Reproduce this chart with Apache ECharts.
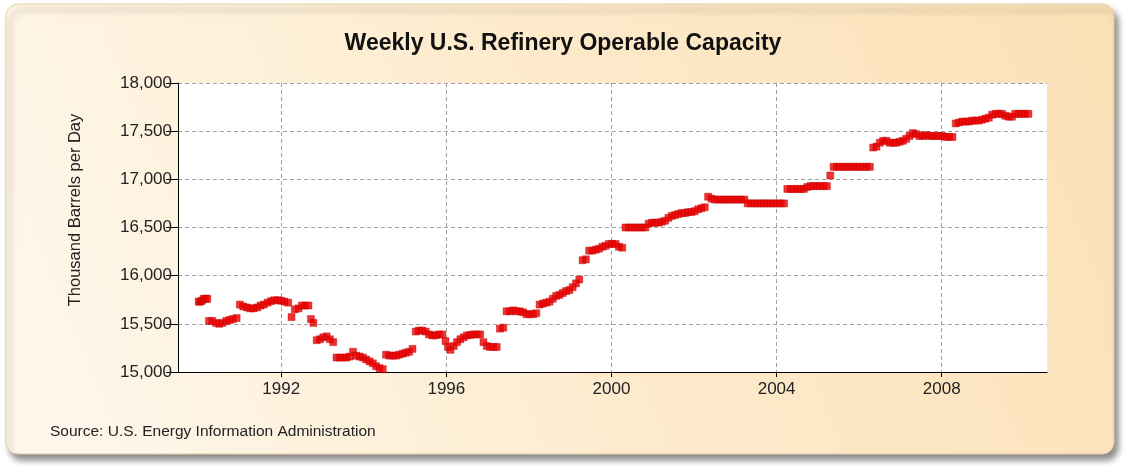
<!DOCTYPE html>
<html>
<head>
<meta charset="utf-8">
<title>Weekly U.S. Refinery Operable Capacity</title>
<script src="https://cdn.jsdelivr.net/npm/echarts@6/dist/echarts.min.js"></script>
<style>
  html, body { margin: 0; padding: 0; background: #fff; }
  #chart { width: 1126px; height: 470px; }
</style>
</head>
<body>
<div id="chart"></div>
<script>
// weekly readings, date as decimal year
const years = [
  1990.00, 1990.04, 1990.08, 1990.12, 1990.17, 1990.21, 1990.25, 1990.33, 1990.42, 1990.50,
  1990.58, 1990.67, 1990.75, 1990.83, 1990.92, 1991.00, 1991.08, 1991.17, 1991.25, 1991.33,
  1991.42, 1991.50, 1991.58, 1991.67, 1991.75, 1991.83, 1991.92, 1992.00, 1992.08, 1992.17,
  1992.25, 1992.33, 1992.42, 1992.50, 1992.58, 1992.66, 1992.72, 1992.78, 1992.86, 1992.94,
  1993.02, 1993.10, 1993.18, 1993.26, 1993.34, 1993.42, 1993.50, 1993.58, 1993.66, 1993.74,
  1993.82, 1993.90, 1993.98, 1994.06, 1994.14, 1994.22, 1994.30, 1994.38, 1994.46, 1994.54,
  1994.62, 1994.70, 1994.78, 1994.86, 1994.94, 1995.02, 1995.10, 1995.18, 1995.26, 1995.34,
  1995.42, 1995.50, 1995.58, 1995.66, 1995.74, 1995.82, 1995.90, 1995.98, 1996.04, 1996.10,
  1996.18, 1996.26, 1996.34, 1996.42, 1996.50, 1996.58, 1996.66, 1996.74, 1996.82, 1996.90,
  1996.98, 1997.06, 1997.14, 1997.22, 1997.30, 1997.38, 1997.46, 1997.54, 1997.62, 1997.70,
  1997.78, 1997.86, 1997.94, 1998.02, 1998.10, 1998.18, 1998.26, 1998.34, 1998.42, 1998.50,
  1998.58, 1998.66, 1998.74, 1998.82, 1998.90, 1998.98, 1999.06, 1999.14, 1999.22, 1999.30,
  1999.38, 1999.46, 1999.54, 1999.62, 1999.70, 1999.78, 1999.86, 1999.94, 2000.02, 2000.10,
  2000.18, 2000.26, 2000.34, 2000.42, 2000.50, 2000.58, 2000.66, 2000.74, 2000.82, 2000.90,
  2000.98, 2001.06, 2001.14, 2001.22, 2001.30, 2001.38, 2001.46, 2001.54, 2001.62, 2001.70,
  2001.78, 2001.86, 2001.94, 2002.02, 2002.10, 2002.18, 2002.26, 2002.34, 2002.42, 2002.50,
  2002.58, 2002.66, 2002.74, 2002.82, 2002.90, 2002.98, 2003.06, 2003.14, 2003.22, 2003.30,
  2003.38, 2003.46, 2003.54, 2003.62, 2003.70, 2003.78, 2003.86, 2003.94, 2004.02, 2004.10,
  2004.18, 2004.26, 2004.34, 2004.42, 2004.50, 2004.58, 2004.66, 2004.74, 2004.82, 2004.90,
  2004.98, 2005.06, 2005.14, 2005.22, 2005.30, 2005.38, 2005.46, 2005.54, 2005.62, 2005.70,
  2005.78, 2005.86, 2005.94, 2006.02, 2006.10, 2006.18, 2006.26, 2006.34, 2006.42, 2006.50,
  2006.58, 2006.66, 2006.74, 2006.82, 2006.90, 2006.98, 2007.06, 2007.14, 2007.22, 2007.30,
  2007.38, 2007.46, 2007.54, 2007.62, 2007.70, 2007.78, 2007.86, 2007.94, 2008.02, 2008.10,
  2008.18, 2008.26, 2008.34, 2008.42, 2008.50, 2008.58, 2008.66, 2008.74, 2008.82, 2008.90,
  2008.98, 2009.06, 2009.14, 2009.22, 2009.30, 2009.38, 2009.46, 2009.54, 2009.62, 2009.70,
  2009.78, 2009.86, 2009.94, 2010.02, 2010.10
];

// thousand barrels per day
const capacity = [
  15730, 15730, 15740, 15760, 15760, 15760, 15530, 15530, 15510, 15500,
  15510, 15530, 15540, 15550, 15560, 15700, 15680, 15670, 15660, 15660,
  15670, 15690, 15700, 15720, 15735, 15745, 15745, 15740, 15730, 15720,
  15570, 15650, 15660, 15690, 15690, 15690, 15550, 15510, 15330, 15340,
  15360, 15370, 15340, 15310, 15150, 15150, 15150, 15150, 15160, 15210,
  15170, 15160, 15150, 15130, 15110, 15090, 15060, 15040, 15030, 15180,
  15170, 15170, 15170, 15180, 15190, 15200, 15210, 15240, 15420, 15430,
  15430, 15420, 15390, 15380, 15380, 15390, 15390, 15320, 15260, 15230,
  15270, 15310, 15340, 15360, 15380, 15385, 15390, 15390, 15390, 15310,
  15270, 15260, 15260, 15260, 15450, 15460, 15630, 15630, 15640, 15630,
  15630, 15620, 15600, 15600, 15600, 15610, 15700, 15710, 15720, 15730,
  15760, 15790, 15800, 15820, 15840, 15850, 15880, 15920, 15960, 16160,
  16170, 16260, 16260, 16270, 16280, 16300, 16310, 16330, 16330, 16330,
  16300, 16290, 16500, 16500, 16500, 16500, 16500, 16500, 16500, 16540,
  16550, 16550, 16550, 16560, 16570, 16600, 16620, 16630, 16640, 16650,
  16650, 16660, 16660, 16670, 16690, 16700, 16710, 16820, 16800, 16790,
  16790, 16790, 16790, 16790, 16790, 16790, 16790, 16790, 16790, 16750,
  16750, 16750, 16750, 16750, 16750, 16750, 16750, 16750, 16750, 16750,
  16750, 16900, 16900, 16900, 16900, 16900, 16900, 16920, 16930, 16930,
  16930, 16930, 16930, 16930, 17040, 17130, 17130, 17130, 17130, 17130,
  17130, 17130, 17130, 17130, 17130, 17130, 17130, 17330, 17340, 17380,
  17400, 17400, 17380, 17380, 17380, 17390, 17400, 17420, 17450, 17480,
  17470, 17450, 17450, 17460, 17450, 17450, 17450, 17450, 17450, 17440,
  17440, 17440, 17580, 17590, 17600, 17600, 17600, 17610, 17610, 17610,
  17620, 17630, 17640, 17670, 17680, 17680, 17680, 17660, 17650, 17650,
  17680, 17680, 17680, 17680, 17680
];

const tickYears = [1992, 1996, 2000, 2004, 2008];

const titleText = "Weekly U.S. Refinery Operable Capacity";
const yAxisTitle = "Thousand Barrels per Day";
const sourceText = "Source: U.S. Energy Information Administration";

const fontFamily = "Liberation Sans, Arial, sans-serif";

const chartDom = document.getElementById("chart");
const chart = echarts.init(chartDom, null, { renderer: "canvas" });

// dashed grey grid, both directions
const gridLine = {
  show: true,
  lineStyle: { color: "#a0a0a0", width: 1, type: [4, 3] }
};

const getOption = () => {
  return {
    animation: false,
    textStyle: { fontFamily: fontFamily },
    title: {
      text: titleText,
      left: "center",
      top: 27,
      textStyle: { fontSize: 23, fontWeight: "bold", color: "#111" }
    },
    graphic: [
      {
        // the card behind the chart
        type: "rect",
        z: -10,
        silent: true,
        shape: { x: 6, y: 4, width: 1108, height: 450, r: 12 },
        style: {
          fill: new echarts.graphic.LinearGradient(0, 1, 1, 0, [
            { offset: 0, color: "#fff8ee" },
            { offset: 0.5, color: "#fdebcd" },
            { offset: 1, color: "#fbe0b6" }
          ]),
          stroke: "#e3cfa8",
          lineWidth: 1,
          shadowBlur: 6,
          shadowOffsetX: 4,
          shadowOffsetY: 6,
          shadowColor: "rgba(0,0,0,0.45)"
        }
      },
      {
        // y axis title, drawn by hand so it sits where the original does
        type: "text",
        x: 75,
        y: 210,
        rotation: Math.PI / 2,
        style: {
          text: yAxisTitle,
          fontSize: 16.5,
          fill: "#222",
          fontFamily: fontFamily,
          align: "center",
          verticalAlign: "middle"
        }
      },
      {
        type: "text",
        left: 50,
        top: 424,
        style: { text: sourceText, fontSize: 15.5, fill: "#222", fontFamily: fontFamily }
      }
    ],
    grid: {
      left: 178,
      right: 79,
      top: 83,
      bottom: 98,
      show: true,
      backgroundColor: "#ffffff",
      borderWidth: 0
    },
    xAxis: {
      type: "value",
      min: 1989.5,
      max: 2010.55,
      axisLine: { show: true, onZero: false, lineStyle: { color: "#000", width: 1 } },
      axisTick: { show: true, length: 5, customValues: tickYears, lineStyle: { color: "#000" } },
      axisLabel: {
        customValues: tickYears,
        color: "#222",
        fontSize: 17,
        margin: 9,
        formatter: (v) => String(v)
      },
      splitLine: gridLine
    },
    yAxis: {
      type: "value",
      min: 15000,
      max: 18000,
      interval: 500,
      axisLine: { show: true, lineStyle: { color: "#000", width: 1 } },
      axisTick: { show: true, length: 12, lineStyle: { color: "#000" } },
      axisLabel: {
        color: "#222",
        fontSize: 17,
        margin: 6,
        formatter: (v) => v.toLocaleString("en-US")
      },
      splitLine: gridLine
    },
    series: [
      {
        type: "scatter",
        symbol: "rect",
        symbolSize: [7, 7],
        itemStyle: { color: "#e80000", borderColor: "#c00000", borderWidth: 0.5 },
        data: years.map((y, i) => [y, capacity[i]])
      }
    ]
  };
};

chart.setOption(getOption());
</script>
</body>
</html>
